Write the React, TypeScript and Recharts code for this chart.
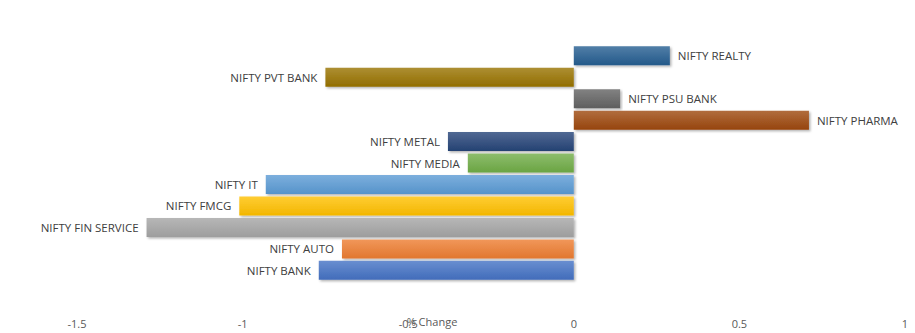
import React from 'react';
import { BarChart, Bar, XAxis, YAxis, Cell, LabelList } from 'recharts';

const categories = [
  'NIFTY REALTY',
  'NIFTY PVT BANK',
  'NIFTY PSU BANK',
  'NIFTY PHARMA',
  'NIFTY METAL',
  'NIFTY MEDIA',
  'NIFTY IT',
  'NIFTY FMCG',
  'NIFTY FIN SERVICE',
  'NIFTY AUTO',
  'NIFTY BANK',
];
const changes = [0.29, -0.75, 0.14, 0.71, -0.38, -0.32, -0.93, -1.01, -1.29, -0.7, -0.77];
const colors = [
  '#255E91', '#997300', '#636363', '#9E480E', '#264478', '#70AD47',
  '#5B9BD5', '#FFC000', '#A5A5A5', '#ED7D31', '#4472C4',
];
const xTicks = [-1.5, -1, -0.5, 0, 0.5, 1];

const data = categories.map((name, i) => ({ name, value: changes[i] }));

function mix(hex: string, target: number, t: number): string {
  const n = parseInt(hex.slice(1), 16);
  const ch = [(n >> 16) & 255, (n >> 8) & 255, n & 255].map((c) =>
    Math.round(c + (target - c) * t)
  );
  return '#' + ch.map((c) => c.toString(16).padStart(2, '0')).join('');
}

const FONT = '"Open Sans", "Noto Sans", sans-serif';

const CatLabel = (props: any) => {
  const { x, y, width, height, value, index } = props;
  const left = Math.min(x, x + width);
  const right = Math.max(x, x + width);
  const neg = changes[index] < 0;
  return (
    <text
      x={neg ? left - 8 : right + 8}
      y={y + height / 2}
      textAnchor={neg ? 'end' : 'start'}
      dominantBaseline="central"
      fontFamily={FONT}
      fontSize={11.5}
      fill="#404040"
    >
      {value}
    </text>
  );
};

const Tick = (props: any) => {
  const { x, y, payload } = props;
  return (
    <text
      x={x}
      y={y + 34}
      textAnchor="middle"
      dominantBaseline="central"
      fontFamily={FONT}
      fontSize={11}
      fill="#595959"
    >
      {payload.value}
    </text>
  );
};

export default function App() {
  return (
    <div style={{ position: 'absolute', left: 0, top: 0, width: 915, height: 333, background: '#fff' }}>
      <BarChart
        width={915}
        height={333}
        data={data}
        layout="vertical"
        margin={{ top: 45, right: 10, bottom: 0, left: 77 }}
        barCategoryGap="6%"
      >
        <defs>
          {colors.map((c, i) => (
            <linearGradient key={i} id={`grad${i}`} x1="0" y1="0" x2="0" y2="1">
              <stop offset="0%" stopColor={mix(c, 255, 0.2)} />
              <stop offset="100%" stopColor={mix(c, 0, 0.05)} />
            </linearGradient>
          ))}
          <filter id="shadow" x="-5%" y="-20%" width="110%" height="160%">
            <feDropShadow dx="1.5" dy="1.5" stdDeviation="1" floodColor="#000" floodOpacity="0.3" />
          </filter>
        </defs>
        <XAxis
          type="number"
          domain={[-1.5, 1]}
          ticks={xTicks}
          axisLine={false}
          tickLine={false}
          height={52}
          interval={0}
          tick={<Tick />}
          label={{
            value: '% Change',
            position: 'insideBottom',
            offset: 7,
            dx: -59,
            fontFamily: FONT,
            fontSize: 11,
            fill: '#595959',
          }}
        />
        <YAxis type="category" dataKey="name" hide />
        <Bar dataKey="value" isAnimationActive={false} filter="url(#shadow)">
          {data.map((d, i) => (
            <Cell key={d.name} fill={`url(#grad${i})`} />
          ))}
          <LabelList dataKey="name" content={<CatLabel />} />
        </Bar>
      </BarChart>
    </div>
  );
}
